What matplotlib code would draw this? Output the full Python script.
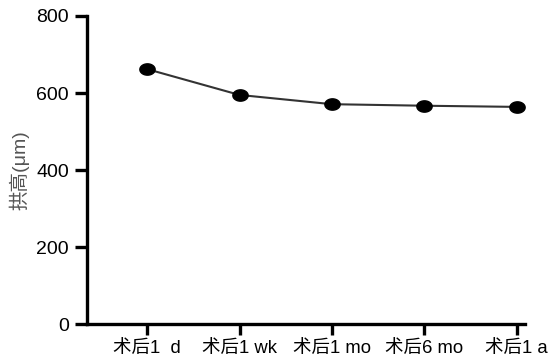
import matplotlib
matplotlib.use("Agg")
import matplotlib.pyplot as plt
import numpy as np
from matplotlib.path import Path

categories = ["术后1  d", "术后1 wk", "术后1 mo", "术后6 mo", "术后1 a"]
values = [662, 595, 571, 567, 564]
yticks = [0, 200, 400, 600, 800]

plt.rcParams['font.family'] = ['Liberation Sans', 'Noto Sans CJK SC', 'DejaVu Sans']

fig = plt.figure(figsize=(5.48, 3.63), dpi=100)
ax = fig.add_axes([0.159, 0.107, 0.799, 0.849])

t = np.linspace(0, 2*np.pi, 60)
ell = Path(np.column_stack([1.35*np.cos(t), np.sin(t)]), closed=True)

x = np.arange(len(categories))
ax.plot(x, values, color='#333333', lw=1.5, marker=ell, markersize=11,
        markerfacecolor='black', markeredgecolor='black', zorder=3, clip_on=False)

ax.set_xlim(-0.65, 4.09)
ax.set_ylim(0, 800)
ax.set_yticks(yticks)
ax.set_xticks(x)
ax.set_xticklabels(categories)
for s in ['top', 'right']:
    ax.spines[s].set_visible(False)
for s in ['left', 'bottom']:
    ax.spines[s].set_linewidth(2.4)
ax.tick_params(axis='both', width=2.4, length=9, labelsize=14, colors='black')
ax.tick_params(axis='x', pad=4, length=8, labelsize=13.3)
ax.tick_params(axis='y', pad=4)
ax.set_ylabel("拱高(μm)", fontsize=14, color='#555555', labelpad=5)

fig.savefig("out.png", dpi=100)
